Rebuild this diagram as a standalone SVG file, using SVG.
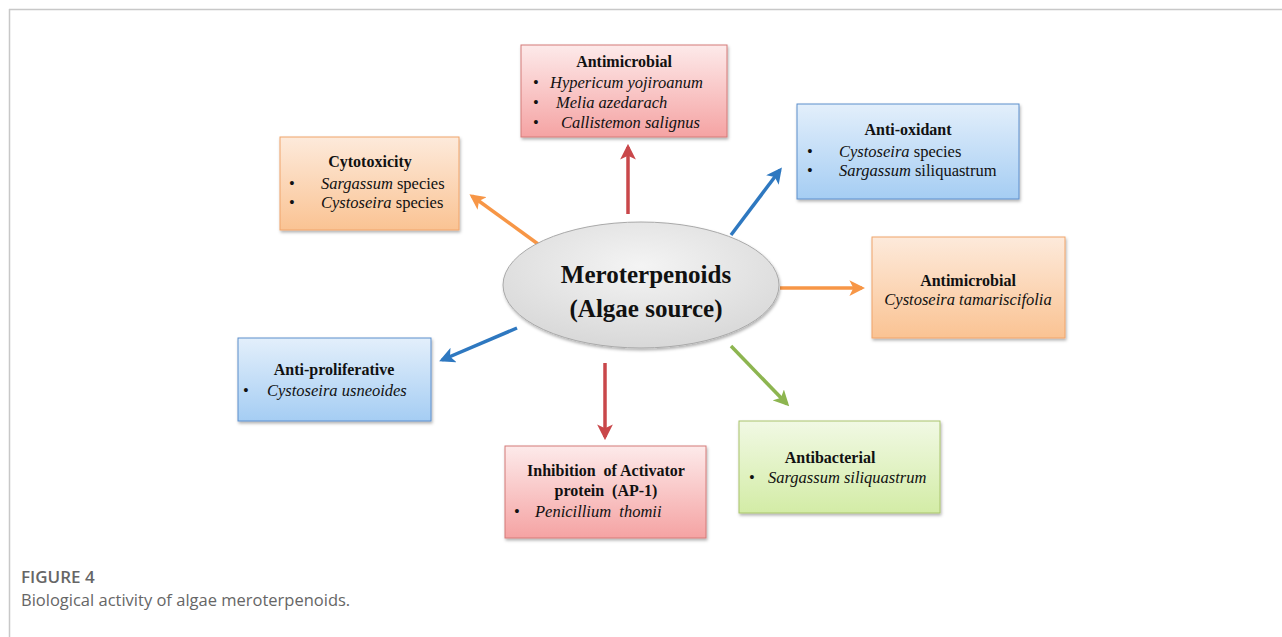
<svg xmlns="http://www.w3.org/2000/svg" width="1282" height="637" viewBox="0 0 1282 637">
<defs>
<style>
.t{font-family:"Liberation Serif",serif;font-weight:bold;font-size:16px;fill:#111;text-anchor:middle}
.b{font-family:"Liberation Serif",serif;font-size:16.5px;fill:#111}
.i{font-style:italic}
.m{font-family:"Liberation Serif",serif;font-weight:bold;font-size:25px;fill:#111;text-anchor:middle}
.cap1{font-family:"Open Sans",sans-serif;font-weight:600;font-size:17px;fill:#666}
.cap2{font-family:"Open Sans",sans-serif;font-size:16.5px;fill:#666}
.ar{stroke-width:3.5;fill:none}
</style>
<linearGradient id="gR" x1="0" y1="0" x2="0" y2="1"><stop offset="0" stop-color="#fdeaea"/><stop offset="1" stop-color="#f5a3a3"/></linearGradient>
<linearGradient id="gO" x1="0" y1="0" x2="0" y2="1"><stop offset="0" stop-color="#fdeadb"/><stop offset="1" stop-color="#fac393"/></linearGradient>
<linearGradient id="gB" x1="0" y1="0" x2="0" y2="1"><stop offset="0" stop-color="#e3effb"/><stop offset="1" stop-color="#a5cdf3"/></linearGradient>
<linearGradient id="gG" x1="0" y1="0" x2="0" y2="1"><stop offset="0" stop-color="#f1f9e4"/><stop offset="1" stop-color="#d3eca6"/></linearGradient>
<radialGradient id="gE" cx="0.5" cy="0.35" r="0.7"><stop offset="0" stop-color="#f4f4f4"/><stop offset="1" stop-color="#d6d6d6"/></radialGradient>
<filter id="sh" x="-10%" y="-10%" width="120%" height="130%"><feDropShadow dx="1" dy="2" stdDeviation="1.5" flood-color="#000" flood-opacity="0.3"/></filter>
<marker id="mO" viewBox="0 0 10 10" refX="8" refY="5" markerWidth="4.5" markerHeight="4.5" orient="auto" markerUnits="strokeWidth"><path d="M0,0 L10,5 L0,10 L2.5,5 Z" fill="#f79646"/></marker>
<marker id="mR" viewBox="0 0 10 10" refX="8" refY="5" markerWidth="4.5" markerHeight="4.5" orient="auto" markerUnits="strokeWidth"><path d="M0,0 L10,5 L0,10 L2.5,5 Z" fill="#c9474a"/></marker>
<marker id="mB" viewBox="0 0 10 10" refX="8" refY="5" markerWidth="4.5" markerHeight="4.5" orient="auto" markerUnits="strokeWidth"><path d="M0,0 L10,5 L0,10 L2.5,5 Z" fill="#2e78c0"/></marker>
<marker id="mG" viewBox="0 0 10 10" refX="8" refY="5" markerWidth="4.5" markerHeight="4.5" orient="auto" markerUnits="strokeWidth"><path d="M0,0 L10,5 L0,10 L2.5,5 Z" fill="#8db550"/></marker>
</defs>
<rect width="1282" height="637" fill="#fff"/>
<g id="frame" stroke="#c8c8c8" stroke-width="1.5"><line x1="9" y1="9.5" x2="1282" y2="9.5"/><line x1="9.5" y1="9" x2="9.5" y2="637"/></g>

<g id="connectors">
<line class="ar" stroke="#f79646" x1="538" y1="244" x2="472" y2="196" marker-end="url(#mO)"/>
<line class="ar" stroke="#c9474a" x1="628" y1="214" x2="628" y2="147" marker-end="url(#mR)"/>
<line class="ar" stroke="#2e78c0" x1="731" y1="235" x2="780" y2="170" marker-end="url(#mB)"/>
<line class="ar" stroke="#f79646" x1="780" y1="288" x2="862" y2="288" marker-end="url(#mO)"/>
<line class="ar" stroke="#2e78c0" x1="517" y1="328" x2="442" y2="360" marker-end="url(#mB)"/>
<line class="ar" stroke="#c9474a" x1="605" y1="363" x2="605" y2="437" marker-end="url(#mR)"/>
<line class="ar" stroke="#8db550" x1="731" y1="346" x2="787" y2="404" marker-end="url(#mG)"/>
</g>

<g id="center">
<ellipse cx="641" cy="285" rx="138" ry="63" fill="url(#gE)" stroke="#a9a9a9" stroke-width="1" filter="url(#sh)"/>
<text class="m" x="646" y="283">Meroterpenoids</text>
<text class="m" x="646" y="317">(Algae source)</text>
</g>

<g id="antimicrobial-top">
<rect x="521" y="45" width="206" height="92" fill="url(#gR)" stroke="#d47a78" stroke-width="1" filter="url(#sh)"/>
<text class="t" x="624" y="67">Antimicrobial</text>
<text class="b" x="533" y="88">•</text><text class="b i" x="550" y="88">Hypericum yojiroanum</text>
<text class="b" x="533" y="108">•</text><text class="b i" x="556" y="108">Melia azedarach</text>
<text class="b" x="533" y="128">•</text><text class="b i" x="561" y="128">Callistemon salignus</text>
</g>

<g id="cytotoxicity">
<rect x="280" y="137" width="179" height="93" fill="url(#gO)" stroke="#f0a46a" stroke-width="1" filter="url(#sh)"/>
<text class="t" x="370" y="167">Cytotoxicity</text>
<text class="b" x="289" y="189">•</text><text class="b" x="321" y="189"><tspan class="i">Sargassum</tspan> species</text>
<text class="b" x="289" y="208">•</text><text class="b" x="321" y="208"><tspan class="i">Cystoseira</tspan> species</text>
</g>

<g id="antioxidant">
<rect x="797" y="104" width="222" height="95" fill="url(#gB)" stroke="#5c8fcc" stroke-width="1" filter="url(#sh)"/>
<text class="t" x="908" y="135">Anti-oxidant</text>
<text class="b" x="807" y="157">•</text><text class="b" x="839" y="157"><tspan class="i">Cystoseira</tspan> species</text>
<text class="b" x="807" y="176">•</text><text class="b" x="839" y="176"><tspan class="i">Sargassum</tspan> siliquastrum</text>
</g>

<g id="antimicrobial-right">
<rect x="872" y="237" width="193" height="101" fill="url(#gO)" stroke="#f0a46a" stroke-width="1" filter="url(#sh)"/>
<text class="t" x="968" y="286">Antimicrobial</text>
<text class="b i" x="968" y="305" text-anchor="middle">Cystoseira tamariscifolia</text>
</g>

<g id="antiproliferative">
<rect x="238" y="338" width="193" height="83" fill="url(#gB)" stroke="#5c8fcc" stroke-width="1" filter="url(#sh)"/>
<text class="t" x="334" y="375">Anti-proliferative</text>
<text class="b" x="243" y="396">•</text><text class="b i" x="267" y="396">Cystoseira usneoides</text>
</g>

<g id="inhibition">
<rect x="505" y="446" width="201" height="92" fill="url(#gR)" stroke="#d47a78" stroke-width="1" filter="url(#sh)"/>
<text class="t" x="606" y="476" xml:space="preserve">Inhibition  of Activator</text>
<text class="t" x="606" y="496" xml:space="preserve">protein  (AP-1)</text>
<text class="b" x="514" y="517">•</text><text class="b i" x="535" y="517" xml:space="preserve">Penicillium  thomii</text>
</g>

<g id="antibacterial">
<rect x="739" y="421" width="201" height="92" fill="url(#gG)" stroke="#a9c46c" stroke-width="1" filter="url(#sh)"/>
<text class="t" x="830" y="463">Antibacterial</text>
<text class="b" x="749" y="483">•</text><text class="b i" x="768" y="483">Sargassum siliquastrum</text>
</g>

<g id="caption">
<text class="cap1" x="21" y="583">FIGURE 4</text>
<text class="cap2" x="21" y="606">Biological activity of algae meroterpenoids.</text>
</g>
</svg>
